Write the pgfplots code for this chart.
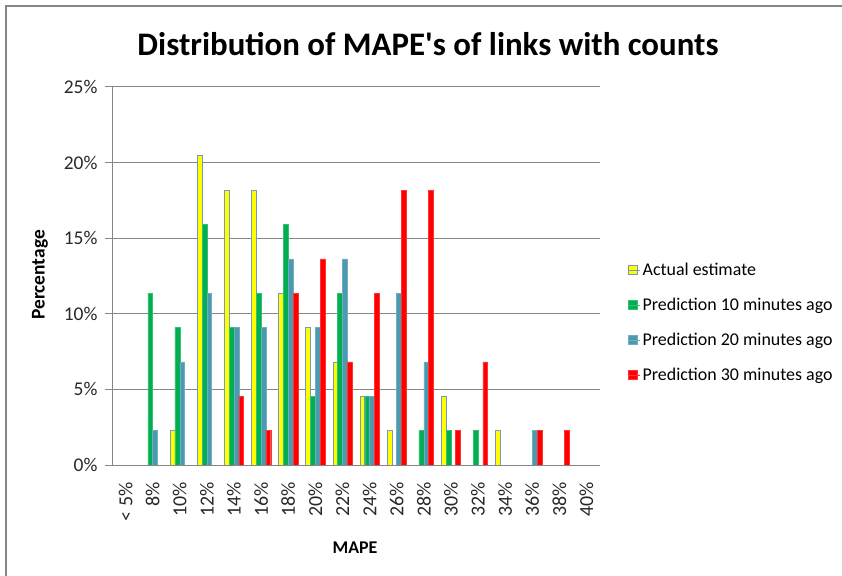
\documentclass[border=0pt]{standalone}
\usepackage{pgfplots}
\pgfplotsset{compat=1.18}
\usepackage{pgfplotstable}
\usepackage{fontspec}
\setmainfont{Carlito}
\definecolor{cyel}{RGB}{255,255,0}
\definecolor{cyeld}{RGB}{120,150,200}
\definecolor{cgrn}{RGB}{0,176,80}
\definecolor{cblu}{RGB}{75,154,176}
\definecolor{cred}{RGB}{255,0,0}
\definecolor{gridc}{RGB}{134,134,134}
\definecolor{txt}{RGB}{40,40,40}

\pgfplotstableread{
x a b c d
0 0 0 0 0
1 0 11.36 2.27 0
2 2.27 9.09 6.82 0
3 20.45 15.91 11.36 0
4 18.18 9.09 9.09 4.55
5 18.18 11.36 9.09 2.27
6 11.36 15.91 13.64 11.36
7 9.09 4.55 9.09 13.64
8 6.82 11.36 13.64 6.82
9 4.55 4.55 4.55 11.36
10 2.27 0 11.36 18.18
11 0 2.27 6.82 18.18
12 4.55 2.27 0 2.27
13 0 2.27 0 6.82
14 2.27 0 0 0
15 0 0 2.27 2.27
16 0 0 0 2.27
17 0 0 0 0
}\data

\begin{document}
\begin{tikzpicture}
\useasboundingbox (0,0) rectangle (842bp,576bp);
\draw[gridc, line width=1.5bp] (6bp,0bp) -- (6bp,570bp) -- (842bp,570bp);
\node[font=\bfseries\fontsize{33}{38}\selectfont, text=black] at (428bp,532bp) {Distribution of MAPE\textquotesingle s of links with counts};
\begin{axis}[
  at={(112bp,111bp)}, anchor=south west,
  scale only axis, width=488bp, height=378bp,
  ybar=0pt, bar width=4.8bp,
  xmin=-0.5, xmax=17.5, ymin=0, ymax=25,
  xtick=data,
  xticklabels={{< 5\%},8\%,10\%,12\%,14\%,16\%,18\%,20\%,22\%,24\%,26\%,28\%,30\%,32\%,34\%,36\%,38\%,40\%},
  xticklabel shift=7bp,
  x tick label style={rotate=90, anchor=east, font=\fontsize{20}{24}\selectfont, text=txt},
  ytick={0,5,10,15,20,25},
  yticklabel={\pgfmathprintnumber{\tick}\%},
  y tick label style={xshift=-4bp, font=\fontsize{19.5}{23}\selectfont, text=txt},
  /pgf/number format/assume math mode=true,
  axis x line*=bottom, axis y line*=left,
  axis line style={gridc, line width=1bp, -},
  ymajorgrids, major grid style={gridc, line width=1bp},
  major x tick style={draw=none},
  major y tick style={gridc, line width=1bp},
  tick align=outside, major tick length=7bp,
  xlabel={\textbf{MAPE}},
  ylabel={\textbf{Percentage}},
  xlabel style={at={(axis description cs:0.498,-0.2196)}, anchor=center, font=\fontsize{18}{21}\selectfont},
  ylabel style={at={(axis description cs:-0.1475,0.503)}, anchor=center, font=\fontsize{19.5}{23}\selectfont},
  legend style={at={(axis description cs:1.057,0.377)}, anchor=west, draw=none, fill=none,
    font=\fontsize{18}{21}\selectfont, row sep=17bp, inner sep=0pt,
    nodes={inner sep=2bp}},
  legend cell align=left,
  legend image code/.code={\draw[#1] (0bp,-4.5bp) rectangle (9bp,4.5bp); \path (0bp,0bp) -- (12bp,0bp);},
]
\addplot[fill=cyel, draw=cyeld, line width=0.6bp] table[x=x,y=a]{\data};
\addplot[fill=cgrn, draw=cgrn!80!white, line width=0.4bp] table[x=x,y=b]{\data};
\addplot[fill=cblu, draw=cblu!80!white, line width=0.4bp] table[x=x,y=c]{\data};
\addplot[fill=cred, draw=cred!80!white, line width=0.4bp] table[x=x,y=d]{\data};
\legend{Actual estimate, Prediction 10 minutes ago, Prediction 20 minutes ago, Prediction 30 minutes ago}
\end{axis}
\end{tikzpicture}
\end{document}
